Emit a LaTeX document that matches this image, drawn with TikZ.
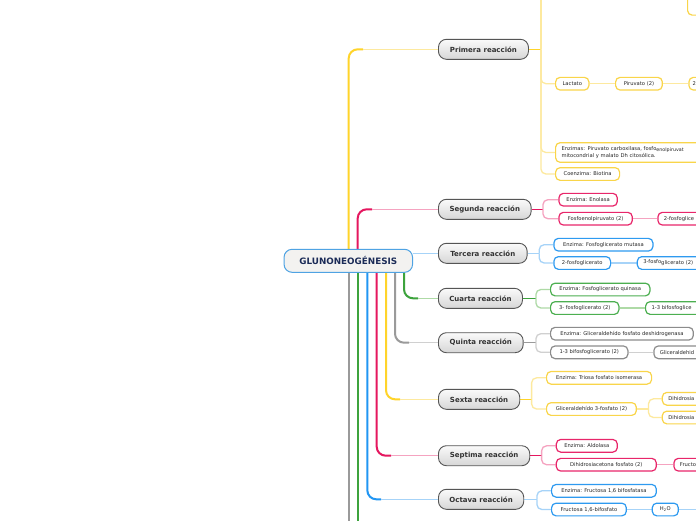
\documentclass[tikz,border=0pt]{standalone}
\usepackage{fontspec}
\setmainfont{DejaVu Sans}
\usetikzlibrary{backgrounds,calc}
\definecolor{yelS}{HTML}{FFD42A}
\definecolor{yelL}{HTML}{FDE99E}
\definecolor{yelB}{HTML}{F9D54A}
\definecolor{pnkS}{HTML}{E5175F}
\definecolor{pnkL}{HTML}{F5A3C0}
\definecolor{pnkB}{HTML}{E8266A}
\definecolor{bluS}{HTML}{2196F3}
\definecolor{bluL}{HTML}{A6D3F8}
\definecolor{bluB}{HTML}{2E9AF0}
\definecolor{grnS}{HTML}{3DA33D}
\definecolor{grnL}{HTML}{AEDAA6}
\definecolor{grnB}{HTML}{4CAF50}
\definecolor{gryS}{HTML}{9A9A9A}
\definecolor{gryL}{HTML}{D0D0D0}
\definecolor{gryB}{HTML}{8C8C8C}
\definecolor{txt}{HTML}{262626}
\definecolor{txt2}{HTML}{333333}
\definecolor{mainb}{HTML}{555555}
\definecolor{mtop}{HTML}{FAFAFA}
\definecolor{mbot}{HTML}{D6D6D6}
\definecolor{rootfill}{HTML}{F3F2F0}
\definecolor{rootb}{HTML}{4FA3E3}
\definecolor{roottxt}{HTML}{1B2B57}
\newcommand\kidfnt{\fontsize{5.2}{6.5}\selectfont}
\newcommand\reactfnt{\fontsize{7}{8}\selectfont\bfseries}
\newcommand\rootfnt{\fontsize{8.8}{10}\selectfont\bfseries}
\tikzset{
  kid/.style={draw=#1, line width=1.2pt, rounded corners=4.5pt, fill=white,
    minimum height=12.7pt, inner ysep=0pt, inner xsep=6pt, anchor=west,
    font=\kidfnt, text=txt},
  cutkid/.style={kid=#1, text width=90pt, align=left},
  react/.style={draw=mainb, line width=0.9pt, rounded corners=8pt,
    top color=mtop, bottom color=mbot, minimum height=20pt, inner xsep=4pt,
    anchor=west, font=\reactfnt, text=txt2},
  trunk/.style={draw=#1, line width=2pt, rounded corners=9pt},
  link/.style={draw=#1, line width=1.3pt, rounded corners=5pt},
}
\begin{document}
\begin{tikzpicture}[x=1pt,y=-1pt]
\useasboundingbox (0,0) rectangle (696,520);
\clip (0,0) rectangle (696,520);

% root
\node[draw=rootb, line width=1pt, fill=rootfill, rounded corners=8pt,
  minimum width=128.5pt, minimum height=23pt, font=\rootfnt, text=roottxt]
  (root) at (348.3,260.8) {GLUNONEOGÉNESIS};

% reactions
\node[react, minimum width=90pt]   (r1) at (438,49.3)  {Primera reacción};
\node[react, minimum width=92.7pt] (r2) at (438,209.3) {Segunda reacción};
\node[react, minimum width=88.7pt] (r3) at (438,253.3) {Tercera reacción};
\node[react, minimum width=84pt]   (r4) at (438,298.3) {Cuarta reacción};
\node[react, minimum width=84.7pt] (r5) at (438,342.7) {Quinta reacción};
\node[react, minimum width=81.3pt] (r6) at (438,399.3) {Sexta reacción};
\node[react, minimum width=91.3pt] (r7) at (438,455.7) {Septima reacción};
\node[react, minimum width=85.3pt] (r8) at (438,499.3) {Octava reacción};

% Primera children
\node[kid=yelB, anchor=south west, minimum width=50pt, minimum height=30pt] (ptop) at (687,15.7) {};
\node[kid=yelB, minimum width=33.3pt] (lact) at (555,83.7) {Lactato};
\node[kid=yelB, minimum width=46.7pt] (piru) at (615,83.7) {Piruvato (2)};
\node[cutkid=yelB, inner xsep=3.8pt] (p3) at (688.3,83.7) {2};
\node[kid=yelB, minimum height=19.6pt, text width=170pt, align=left] (enz) at (555,152.5)
  {Enzimas: Piruvato carboxilasa, fosfo\raisebox{-1.3pt}{\fontsize{4.8}{5}\selectfont enolpiruvat}\\mitocondrial y malato Dh citosólica.};
\node[kid=yelB, minimum width=64pt] (coenz) at (555,174) {Coenzima: Biotina};

% Segunda children
\node[kid=pnkB, minimum width=58.4pt] (enol) at (558.3,199.7) {Enzima: Enolasa};
\node[kid=pnkB, minimum width=73.4pt] (pep) at (558.3,218.7) {Fosfoenolpiruvato (2)};
\node[cutkid=pnkB] (p2g) at (657.3,218.7) {2-fosfoglice};

% Tercera children
\node[kid=bluB, minimum width=99pt] (mut) at (553.3,244.7) {Enzima: Fosfoglicerato mutasa};
\node[kid=bluB, minimum width=56.7pt] (g2) at (553.3,263) {2-fosfoglicerato};
\node[cutkid=bluB] (g3) at (636.7,263) {3-fosfo\raisebox{-1pt}{glicerato (2)}};

% Cuarta children
\node[kid=grnB, minimum width=99.3pt] (quin) at (550,289.5) {Enzima: Fosfoglicerato quinasa};
\node[kid=grnB, minimum width=68.3pt] (g3b) at (550,308) {3- fosfoglicerato (2)};
\node[cutkid=grnB] (bpg) at (645,308) {1-3 bifosfoglice};

% Quinta children
\node[kid=gryB, minimum width=142.7pt] (desh) at (550,333.7) {Enzima: Gliceraldehído fosfato deshidrogenasa};
\node[kid=gryB, minimum width=77.3pt] (bpg2) at (550,352.3) {1-3 bifosfoglicerato (2)};
\node[cutkid=gryB] (gal) at (653.3,352.3) {Gliceraldehid};

% Sexta children
\node[kid=yelB, minimum width=105pt] (tri) at (546,377.8) {Enzima: Triosa fosfato isomerasa};
\node[kid=yelB, minimum width=89.7pt] (g3p) at (546,409) {Gliceraldehído 3-fosfato (2)};
\node[cutkid=yelB] (dih1) at (661.7,398.8) {Dihidrosia};
\node[cutkid=yelB] (dih2) at (661.7,417.5) {Dihidrosia};

% Septima children
\node[kid=pnkB, minimum width=61pt] (ald) at (555.7,445.8) {Enzima: Aldolasa};
\node[kid=pnkB, minimum width=100pt] (dhap) at (555.7,464.7) {Dihidrosiacetona fosfato (2)};
\node[cutkid=pnkB] (fru) at (673.3,464.7) {Fructo};

% Octava children
\node[kid=bluB, minimum width=104.7pt] (fbp) at (551,490.8) {Enzima: Fructosa 1,6 bifosfatasa};
\node[kid=bluB, minimum width=74.7pt] (f16) at (551,509.5) {Fructosa 1,6-bifosfato};
\node[kid=bluB, minimum width=26pt] (h2o) at (651.7,509.5) {H\textsubscript{2}O};

% branch points
\coordinate (b1) at ($(r1.east)+(12,0)$);
\coordinate (b1top) at ($(b1)+(0,-60)$);
\coordinate (b2) at ($(r2.east)+(11.3,0)$);
\coordinate (b3) at ($(r3.east)+(11.6,0)$);
\coordinate (b4) at ($(r4.east)+(13,0)$);
\coordinate (b5) at ($(r5.east)+(12.3,0)$);
\coordinate (b6) at ($(r6.east)+(11.4,0)$);
\coordinate (b6b) at ($(g3p.east)+(11.6,0)$);
\coordinate (b7) at ($(r7.east)+(11.4,0)$);
\coordinate (b8) at ($(r8.east)+(12.7,0)$);
\coordinate (h2oend) at ($(h2o.east)+(40,0)$);
\coordinate (grayend) at ($(root.south)+(0.4,280)$);
\coordinate (greenend) at ($(root.south)+(9.4,280)$);

\begin{scope}[on background layer]
\fill[white] (0,0) rectangle (696,520);
% trunks
\draw[trunk=yelS] ([xshift=0.4pt]root.north) |- ($(r1.west)+(-75,0)$);
\draw[link=yelL] ($(r1.west)+(-75,0)$) -- (r1.west);
\draw[trunk=pnkS] ([xshift=9.4pt]root.north) |- ($(r2.west)+(-66,0)$);
\draw[link=pnkL] ($(r2.west)+(-66,0)$) -- (r2.west);
\draw[link=bluL, line width=1.6pt] (r3.west -| root.east) -- (r3.west);
\draw[trunk=grnS] ([xshift=55.7pt]root.south) |- ($(r4.west)+(-20,0)$);
\draw[link=grnL] ($(r4.west)+(-20,0)$) -- (r4.west);
\draw[trunk=gryS] ([xshift=46.7pt]root.south) |- ($(r5.west)+(-29,0)$);
\draw[link=gryL] ($(r5.west)+(-29,0)$) -- (r5.west);
\draw[trunk=yelS] ([xshift=37.7pt]root.south) |- ($(r6.west)+(-38,0)$);
\draw[link=yelL] ($(r6.west)+(-38,0)$) -- (r6.west);
\draw[trunk=pnkS] ([xshift=28.4pt]root.south) |- ($(r7.west)+(-47,0)$);
\draw[link=pnkL] ($(r7.west)+(-47,0)$) -- (r7.west);
\draw[trunk=bluS] ([xshift=19pt]root.south) |- ($(r8.west)+(-57,0)$);
\draw[link=bluL] ($(r8.west)+(-57,0)$) -- (r8.west);
\draw[trunk=gryS] ([xshift=0.4pt]root.south) -- (grayend);
\draw[trunk=grnS] ([xshift=9.4pt]root.south) -- (greenend);

% Primera
\draw[link=yelS] (r1.east) -- (b1);
\draw[link=yelL] (b1) -- (b1top);
\draw[link=yelL] (b1) |- (lact.west);
\draw[link=yelL] (b1) |- (enz.west);
\draw[link=yelL] (b1) |- (coenz.west);
\draw[link=yelL] (lact) -- (piru);
\draw[link=yelL] (piru) -- (p3);
% Segunda
\draw[link=pnkS] (r2.east) -- (b2);
\draw[link=pnkL] (b2) |- (enol.west);
\draw[link=pnkL] (b2) |- (pep.west);
\draw[link=pnkL] (pep) -- (p2g);
% Tercera
\draw[link=bluL] (r3.east) -- (b3);
\draw[link=bluL] (b3) |- (mut.west);
\draw[link=bluL] (b3) |- (g2.west);
\draw[link=bluL] (g2) -- (g3);
% Cuarta
\draw[link=grnS] (r4.east) -- (b4);
\draw[link=grnL] (b4) |- (quin.west);
\draw[link=grnL] (b4) |- (g3b.west);
\draw[link=grnL] (g3b) -- (bpg);
% Quinta
\draw[link=gryS] (r5.east) -- (b5);
\draw[link=gryL] (b5) |- (desh.west);
\draw[link=gryL] (b5) |- (bpg2.west);
\draw[link=gryL] (bpg2) -- (gal);
% Sexta
\draw[link=yelS] (r6.east) -- (b6);
\draw[link=yelL] (b6) |- (tri.west);
\draw[link=yelL] (b6) |- (g3p.west);
\draw[link=yelL] (g3p.east) -- (b6b);
\draw[link=yelL] (b6b) |- (dih1.west);
\draw[link=yelL] (b6b) |- (dih2.west);
% Septima
\draw[link=pnkS] (r7.east) -- (b7);
\draw[link=pnkL] (b7) |- (ald.west);
\draw[link=pnkL] (b7) |- (dhap.west);
\draw[link=pnkL] (dhap) -- (fru);
% Octava
\draw[link=bluL] (r8.east) -- (b8);
\draw[link=bluL] (b8) |- (fbp.west);
\draw[link=bluL] (b8) |- (f16.west);
\draw[link=bluL] (f16) -- (h2o);
\draw[link=bluL] (h2o) -- (h2oend);
\end{scope}
\end{tikzpicture}
\end{document}
